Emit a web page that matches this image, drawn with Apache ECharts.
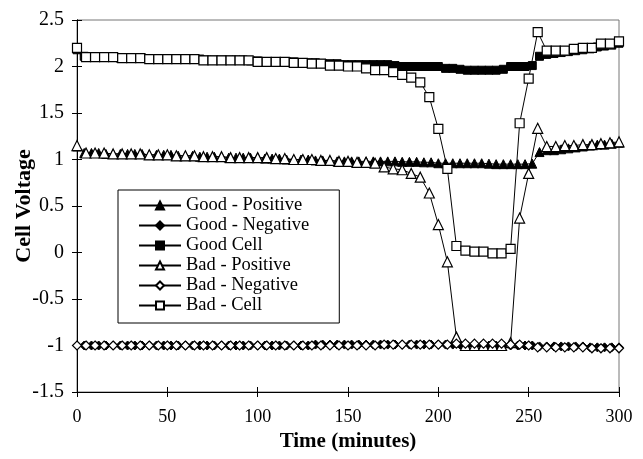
<!DOCTYPE html>
<html><head><meta charset="utf-8">
<script src="https://cdn.jsdelivr.net/npm/echarts@6/dist/echarts.min.js"></script>
<style>html,body{margin:0;padding:0;background:#fff}#c{width:643px;height:459px}</style>
</head><body><div id="c"></div>
<script>
const timesBad = [0,5,10,15,20,25,30,35,40,45,50,55,60,65,70,75,80,85,90,95,
  100,105,110,115,120,125,130,135,140,145,150,155,160,165,170,175,180,185,190,195,
  200,205,210,215,220,225,230,235,240,245,250,255,260,265,270,275,280,285,290,295,300];
const timesGood = [0,4,8,12,16,20,24,28,32,36,40,44,48,52,56,60,64,68,72,76,
  80,84,88,92,96,100,104,108,112,116,120,124,128,132,136,140,144,148,152,156,
  160,164,168,172,176,180,184,188,192,196,200,204,208,212,216,220,224,228,232,236,
  240,244,248,252,256,260,264,268,272,276,280,284,288,292,296,300];

const goodPositive = [1.14,1.07,1.07,1.07,1.06,1.06,1.06,1.06,1.06,1.06,
  1.05,1.05,1.05,1.05,1.04,1.04,1.04,1.03,1.03,1.03,
  1.03,1.02,1.02,1.02,1.02,1.02,1.01,1.01,1.01,1.0,
  1.0,1.0,1.0,0.99,0.99,0.99,0.98,0.98,0.98,0.98,
  0.98,0.98,0.98,0.98,0.98,0.975,0.975,0.975,0.97,0.97,
  0.96,0.96,0.96,0.96,0.96,0.96,0.96,0.955,0.95,0.95,
  0.95,0.95,0.95,0.955,1.08,1.1,1.1,1.11,1.12,1.13,
  1.14,1.15,1.16,1.16,1.17,1.18];
const goodNegative = [-1.0,-1.0,-1.0,-1.0,-1.0,-1.0,-1.0,-1.0,-1.0,-1.0,
  -1.0,-1.0,-1.0,-1.0,-1.0,-1.0,-1.0,-1.0,-1.0,-1.0,
  -1.0,-1.0,-1.0,-1.0,-1.0,-1.0,-1.0,-1.0,-1.0,-1.0,
  -1.0,-1.0,-1.0,-0.99,-0.99,-0.99,-0.99,-0.99,-0.99,-0.99,
  -0.99,-0.99,-0.99,-0.99,-0.99,-0.99,-0.99,-0.99,-0.99,-0.99,
  -0.99,-0.99,-0.99,-0.99,-1.0,-1.0,-1.0,-1.0,-1.0,-1.0,
  -1.0,-1.0,-1.0,-1.0,-1.01,-1.01,-1.01,-1.01,-1.01,-1.01,
  -1.01,-1.02,-1.02,-1.02,-1.02,-1.02];
const goodCell = [2.18,2.11,2.1,2.1,2.1,2.1,2.09,2.09,2.09,2.09,
  2.08,2.08,2.08,2.08,2.08,2.08,2.08,2.08,2.07,2.07,
  2.07,2.07,2.07,2.07,2.06,2.06,2.05,2.05,2.05,2.05,
  2.05,2.04,2.04,2.04,2.03,2.03,2.03,2.02,2.02,2.02,
  2.02,2.02,2.02,2.02,2.01,2.0,2.0,2.0,2.0,2.0,
  2.0,1.98,1.98,1.97,1.96,1.96,1.96,1.96,1.96,1.97,
  2.0,2.0,2.0,2.01,2.11,2.13,2.14,2.15,2.16,2.17,
  2.18,2.19,2.21,2.22,2.23,2.25];
const badPositive = [1.15,1.07,1.07,1.07,1.06,1.06,1.06,1.06,1.05,1.05,
  1.05,1.04,1.04,1.04,1.03,1.03,1.03,1.02,1.02,1.02,
  1.02,1.02,1.01,1.01,1.0,1.0,1.0,0.99,0.99,0.98,
  0.98,0.97,0.97,0.96,0.92,0.9,0.89,0.85,0.81,0.64,
  0.3,-0.1,-0.91,-1.0,-1.0,-1.0,-1.0,-1.0,-0.97,0.37,
  0.85,1.335,1.14,1.14,1.15,1.15,1.16,1.16,1.17,1.18,
  1.19];
const badNegative = [-1.0,-1.0,-1.0,-1.0,-1.0,-1.0,-1.0,-1.0,-1.0,-1.0,
  -1.0,-1.0,-1.0,-1.0,-1.0,-1.0,-1.0,-1.0,-1.0,-1.0,
  -1.0,-1.0,-1.0,-1.0,-1.0,-1.0,-1.0,-1.0,-1.0,-1.0,
  -1.0,-1.0,-1.0,-1.0,-0.99,-0.99,-0.99,-0.99,-0.99,-0.99,
  -0.99,-0.99,-0.98,-0.98,-0.98,-0.98,-0.98,-0.98,-0.99,-0.99,
  -1.0,-1.02,-1.02,-1.02,-1.02,-1.02,-1.02,-1.03,-1.03,-1.03,
  -1.03];
const badCell = [2.2,2.1,2.1,2.1,2.1,2.09,2.09,2.09,2.08,2.08,
  2.08,2.08,2.08,2.08,2.065,2.065,2.065,2.065,2.065,2.065,
  2.05,2.05,2.05,2.05,2.04,2.04,2.03,2.03,2.01,2.01,
  2.0,2.0,1.98,1.96,1.96,1.94,1.91,1.88,1.83,1.67,
  1.33,0.9,0.07,0.02,0.01,0.01,-0.01,-0.01,0.04,1.39,
  1.87,2.37,2.17,2.17,2.17,2.19,2.2,2.2,2.245,2.245,
  2.27];
const xTicks = [0,50,100,150,200,250,300];
const yTicks = [-1.5,-1,-0.5,0,0.5,1,1.5,2,2.5];

const FONT = 'Liberation Serif';
function pairs(t, v) { return t.map((x, i) => [x, v[i]]); }
function ser(name, t, v, symbol, filled, size) {
  return {
    name, type: 'line', data: pairs(t, v), symbol, symbolSize: size,
    showSymbol: true, animation: false, silent: true,
    lineStyle: { color: '#000', width: 1 },
    itemStyle: { color: filled ? '#000' : '#fff', borderColor: '#000', borderWidth: filled ? 1 : 1.2 }
  };
}
const axisBase = (isX) => ({
  type: 'value',
  min: isX ? xTicks[0] : yTicks[0],
  max: isX ? xTicks[xTicks.length - 1] : yTicks[yTicks.length - 1],
  interval: isX ? 50 : 0.5,
  splitLine: { show: false },
  axisLine: { show: true, onZero: false, lineStyle: { color: '#000', width: 1 } }
});
const chart = echarts.init(document.getElementById('c'));
chart.setOption({
  backgroundColor: '#fff',
  animation: false,
  grid: { left: 77, right: 24, top: 20, bottom: 67, show: true, borderColor: '#777', borderWidth: 1, backgroundColor: '#fff' },
  xAxis: [
    Object.assign(axisBase(true), {
      position: 'bottom',
      axisTick: { show: true, inside: false, length: 5, lineStyle: { color: '#000' } },
      axisLabel: { color: '#000', fontFamily: FONT, fontSize: 18, margin: 16 },
      name: 'Time (minutes)', nameLocation: 'middle', nameGap: 39, nameMoveOverlap: false,
      nameTextStyle: { color: '#000', fontFamily: FONT, fontSize: 21, fontWeight: 'bold' }
    }),
    Object.assign(axisBase(true), {
      position: 'bottom',
      axisTick: { show: true, inside: true, length: 5, lineStyle: { color: '#000' } },
      axisLabel: { show: false }
    })
  ],
  yAxis: [
    Object.assign(axisBase(false), {
      position: 'left',
      axisTick: { show: true, inside: false, length: 5, lineStyle: { color: '#000' } },
      axisLabel: { color: '#000', fontFamily: FONT, fontSize: 20, margin: 13 },
      name: 'Cell Voltage', nameLocation: 'middle', nameGap: 42, nameMoveOverlap: false,
      nameTextStyle: { color: '#000', fontFamily: FONT, fontSize: 22, fontWeight: 'bold' }
    }),
    Object.assign(axisBase(false), {
      position: 'left',
      axisTick: { show: true, inside: true, length: 5, lineStyle: { color: '#000' } },
      axisLabel: { show: false }
    })
  ],
  legend: {
    orient: 'vertical', left: 118, top: 190,
    padding: [6, 30, 8, 20], itemGap: 1, itemWidth: 42, itemHeight: 10,
    backgroundColor: '#fff', borderColor: '#000', borderWidth: 1,
    textStyle: { color: '#000', fontFamily: FONT, fontSize: 18.5, lineHeight: 17.5 },
    data: ['Good - Positive', 'Good - Negative', 'Good Cell', 'Bad - Positive', 'Bad - Negative', 'Bad - Cell']
  },
  series: [
    ser('Good - Positive', timesGood, goodPositive, 'triangle', true, 9),
    ser('Good - Negative', timesGood, goodNegative, 'diamond', true, 9),
    ser('Good Cell', timesGood, goodCell, 'rect', true, 8),
    ser('Bad - Positive', timesBad, badPositive, 'triangle', false, 10),
    ser('Bad - Negative', timesBad, badNegative, 'diamond', false, 9),
    ser('Bad - Cell', timesBad, badCell, 'rect', false, 9)
  ]
});
</script></body></html>
